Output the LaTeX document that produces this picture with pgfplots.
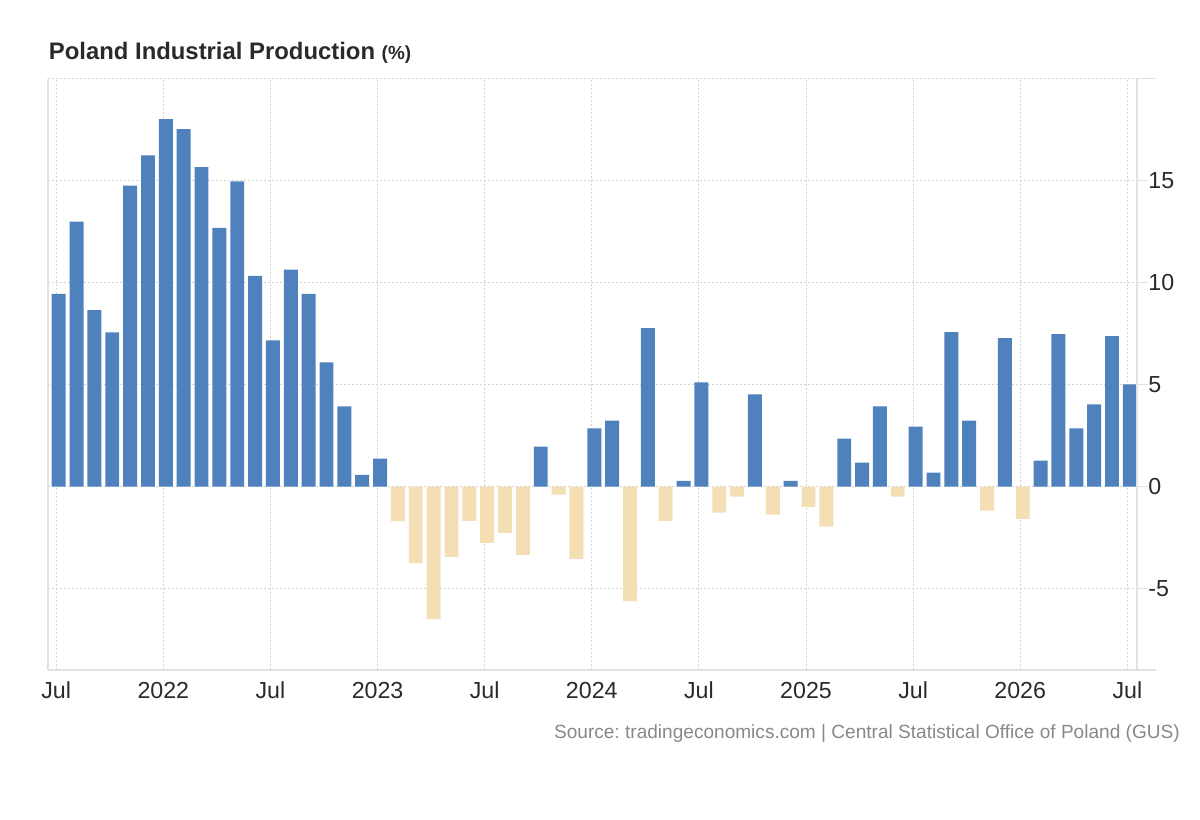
\documentclass[border=0pt]{standalone}
\usepackage{fontspec}
\setmainfont{Liberation Sans}
\usepackage{pgfplots}
\pgfplotsset{compat=1.18}
\definecolor{tebar}{HTML}{4F81BD}
\definecolor{tebeige}{HTML}{F4DEB4}
\definecolor{tegrid}{HTML}{D4D4D4}
\definecolor{teaxis}{HTML}{E2E2E2}
\definecolor{tetext}{HTML}{2A2A2A}
\definecolor{tesrc}{HTML}{888888}
\frenchspacing
\begin{document}
\begin{tikzpicture}[x=1pt,y=1pt]
\path[use as bounding box] (0,0) rectangle (900,615);
\begin{axis}[
  at={(36pt,112.5pt)}, anchor=south west,
  scale only axis, width=816.75pt, height=443.25pt,
  xmin=-0.6, xmax=60.4, ymin=-9, ymax=20,
  axis line style={draw=none},
  xtick={-0.14,5.86,11.86,17.86,23.86,29.86,35.86,41.86,47.86,53.86,59.86},
  xticklabels={Jul,2022,Jul,2023,Jul,2024,Jul,2025,Jul,2026,Jul},
  ytick={-5,0,5,10,15},
  yticklabels={-5,0,5,10,15},
  extra y ticks={20}, extra y tick labels={},
  extra y tick style={major tick length=14pt, ytick pos=right, grid=major},
  ytick pos=right, yticklabel pos=right,
  tick align=outside,
  major tick length=8pt,
  x tick style={draw=none},
  y tick style={teaxis, line width=0.75pt},
  grid=major,
  grid style={tegrid, line width=0.75pt, dash pattern=on 1.2pt off 1.8pt},
  /pgf/number format/assume math mode=true,
  ticklabel style={font=\fontsize{17.4}{19}\selectfont, text=tetext},
  xticklabel style={anchor=base, yshift=-13.5pt},
  yticklabel style={anchor=west, xshift=-3pt},
  clip=false,
]
\addplot[ybar, bar width=0.78, bar shift=0, fill=tebar, draw=none] coordinates {
(0,9.45) (1,13.0) (2,8.66) (3,7.57) (4,14.77) (5,16.25) (6,18.03) (7,17.54)
(8,15.67) (9,12.7) (10,14.97) (11,10.34) (12,7.18) (13,10.64) (14,9.45)
(15,6.1) (16,3.93) (17,0.58) (18,1.37) (27,1.96) (30,2.85) (31,3.24)
(33,7.78) (35,0.28) (36,5.11) (39,4.52) (41,0.28) (44,2.35) (45,1.17)
(46,3.93) (48,2.94) (49,0.68) (50,7.58) (51,3.24) (53,7.28) (55,1.27)
(56,7.48) (57,2.85) (58,4.03) (59,7.38) (60,5.01)
};
\addplot[ybar, bar width=0.78, bar shift=0, fill=tebeige, draw=none] coordinates {
(19,-1.69) (20,-3.76) (21,-6.5) (22,-3.45) (23,-1.68) (24,-2.76) (25,-2.27)
(26,-3.35) (28,-0.39) (29,-3.55) (32,-5.62) (34,-1.68) (37,-1.28) (38,-0.49)
(40,-1.38) (42,-0.99) (43,-1.97) (47,-0.49) (52,-1.18) (54,-1.58)
};
\end{axis}
\draw[teaxis, line width=1pt] (36,112.5) -- (36,555.75);
\draw[teaxis, line width=1pt] (852.75,112.5) -- (852.75,555.75);
\draw[teaxis, line width=1pt] (36,112.5) -- (867,112.5);
\node[anchor=base west, inner sep=0, text=tetext, font=\bfseries\fontsize{17.9}{20}\selectfont] at (36.5,570) {Poland Industrial Production {\fontsize{14.2}{16}\selectfont (\%)}};
\node[anchor=base east, inner sep=0, text=tesrc, font=\fontsize{14.3}{16}\selectfont] at (885,61) {Source: tradingeconomics.com | Central Statistical Office of Poland (GUS)};
\end{tikzpicture}
\end{document}
